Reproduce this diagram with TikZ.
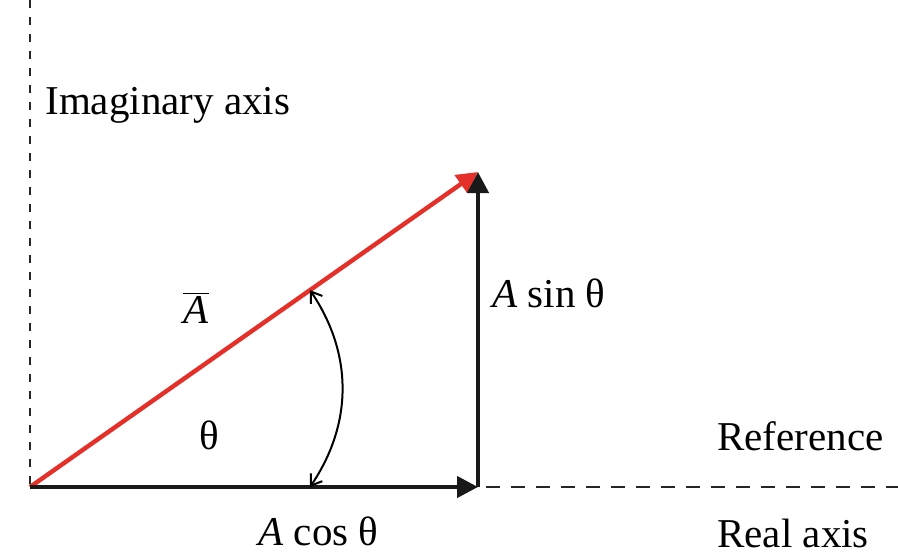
\documentclass[tikz,border=0pt]{standalone}
\usepackage{fontspec}
\setmainfont{Liberation Serif}
\usetikzlibrary{arrows.meta, calc}
\definecolor{phasorred}{HTML}{E5302A}

\begin{document}
\begin{tikzpicture}[x=0.5pt, y=0.5pt, font=\fontsize{20.5}{24}\selectfont,
  vec/.style={line width=2.2pt, -{Triangle[length=10.5pt, width=10.5pt]}},
  lbl/.style={inner sep=0pt}]
  \useasboundingbox (0,0) rectangle (898,554);
  % Points
  \coordinate (O) at (30,67);
  \coordinate (P) at (478,67);
  \coordinate (T) at (478,382);
  \coordinate (imtop) at (30,554);
  \coordinate (reend) at (898,67);
  % Axes
  \draw[black!85, line width=1.2pt, dash pattern=on 4pt off 4.5pt] (imtop) -- (O);
  \draw[black!85, line width=1.2pt, dash pattern=on 7pt off 5.5pt, dash phase=8.75pt] (P) -- (reend);
  % Phasor and components
  \draw[vec, phasorred] (O) -- (T);
  \draw[vec, black!90] (O) -- (P);
  \draw[vec, black!90] (P) -- (T);
  % Angle
  \coordinate (ab) at ($(O)!0.625!(P)$);
  \coordinate (at) at ($(O)!0.625!(T)$);
  \draw[line width=1pt, {Straight Barb[length=5pt, width=7pt]}-{Straight Barb[length=5pt, width=7pt]}] (ab) to[bend right=34] (at);
  % Labels
  \node[lbl, anchor=base west] (imlbl) at (45,440) {Imaginary axis};
  \node[lbl, anchor=base west] (reflbl) at (717,104) {Reference};
  \node[lbl, anchor=base west] (relbl) at (717,7) {Real axis};
  \node[lbl, anchor=base west] (coslbl) at (258,9) {\textit{A} cos θ};
  \node[lbl, anchor=base west] (sinlbl) at (492,247) {\textit{A} sin θ};
  \node[lbl] (thlbl) at (209,119) {θ};
  \node[lbl, anchor=base] (albl) at (196,231) {$\overline{\mbox{\textit{A}}}$};
\end{tikzpicture}
\end{document}
